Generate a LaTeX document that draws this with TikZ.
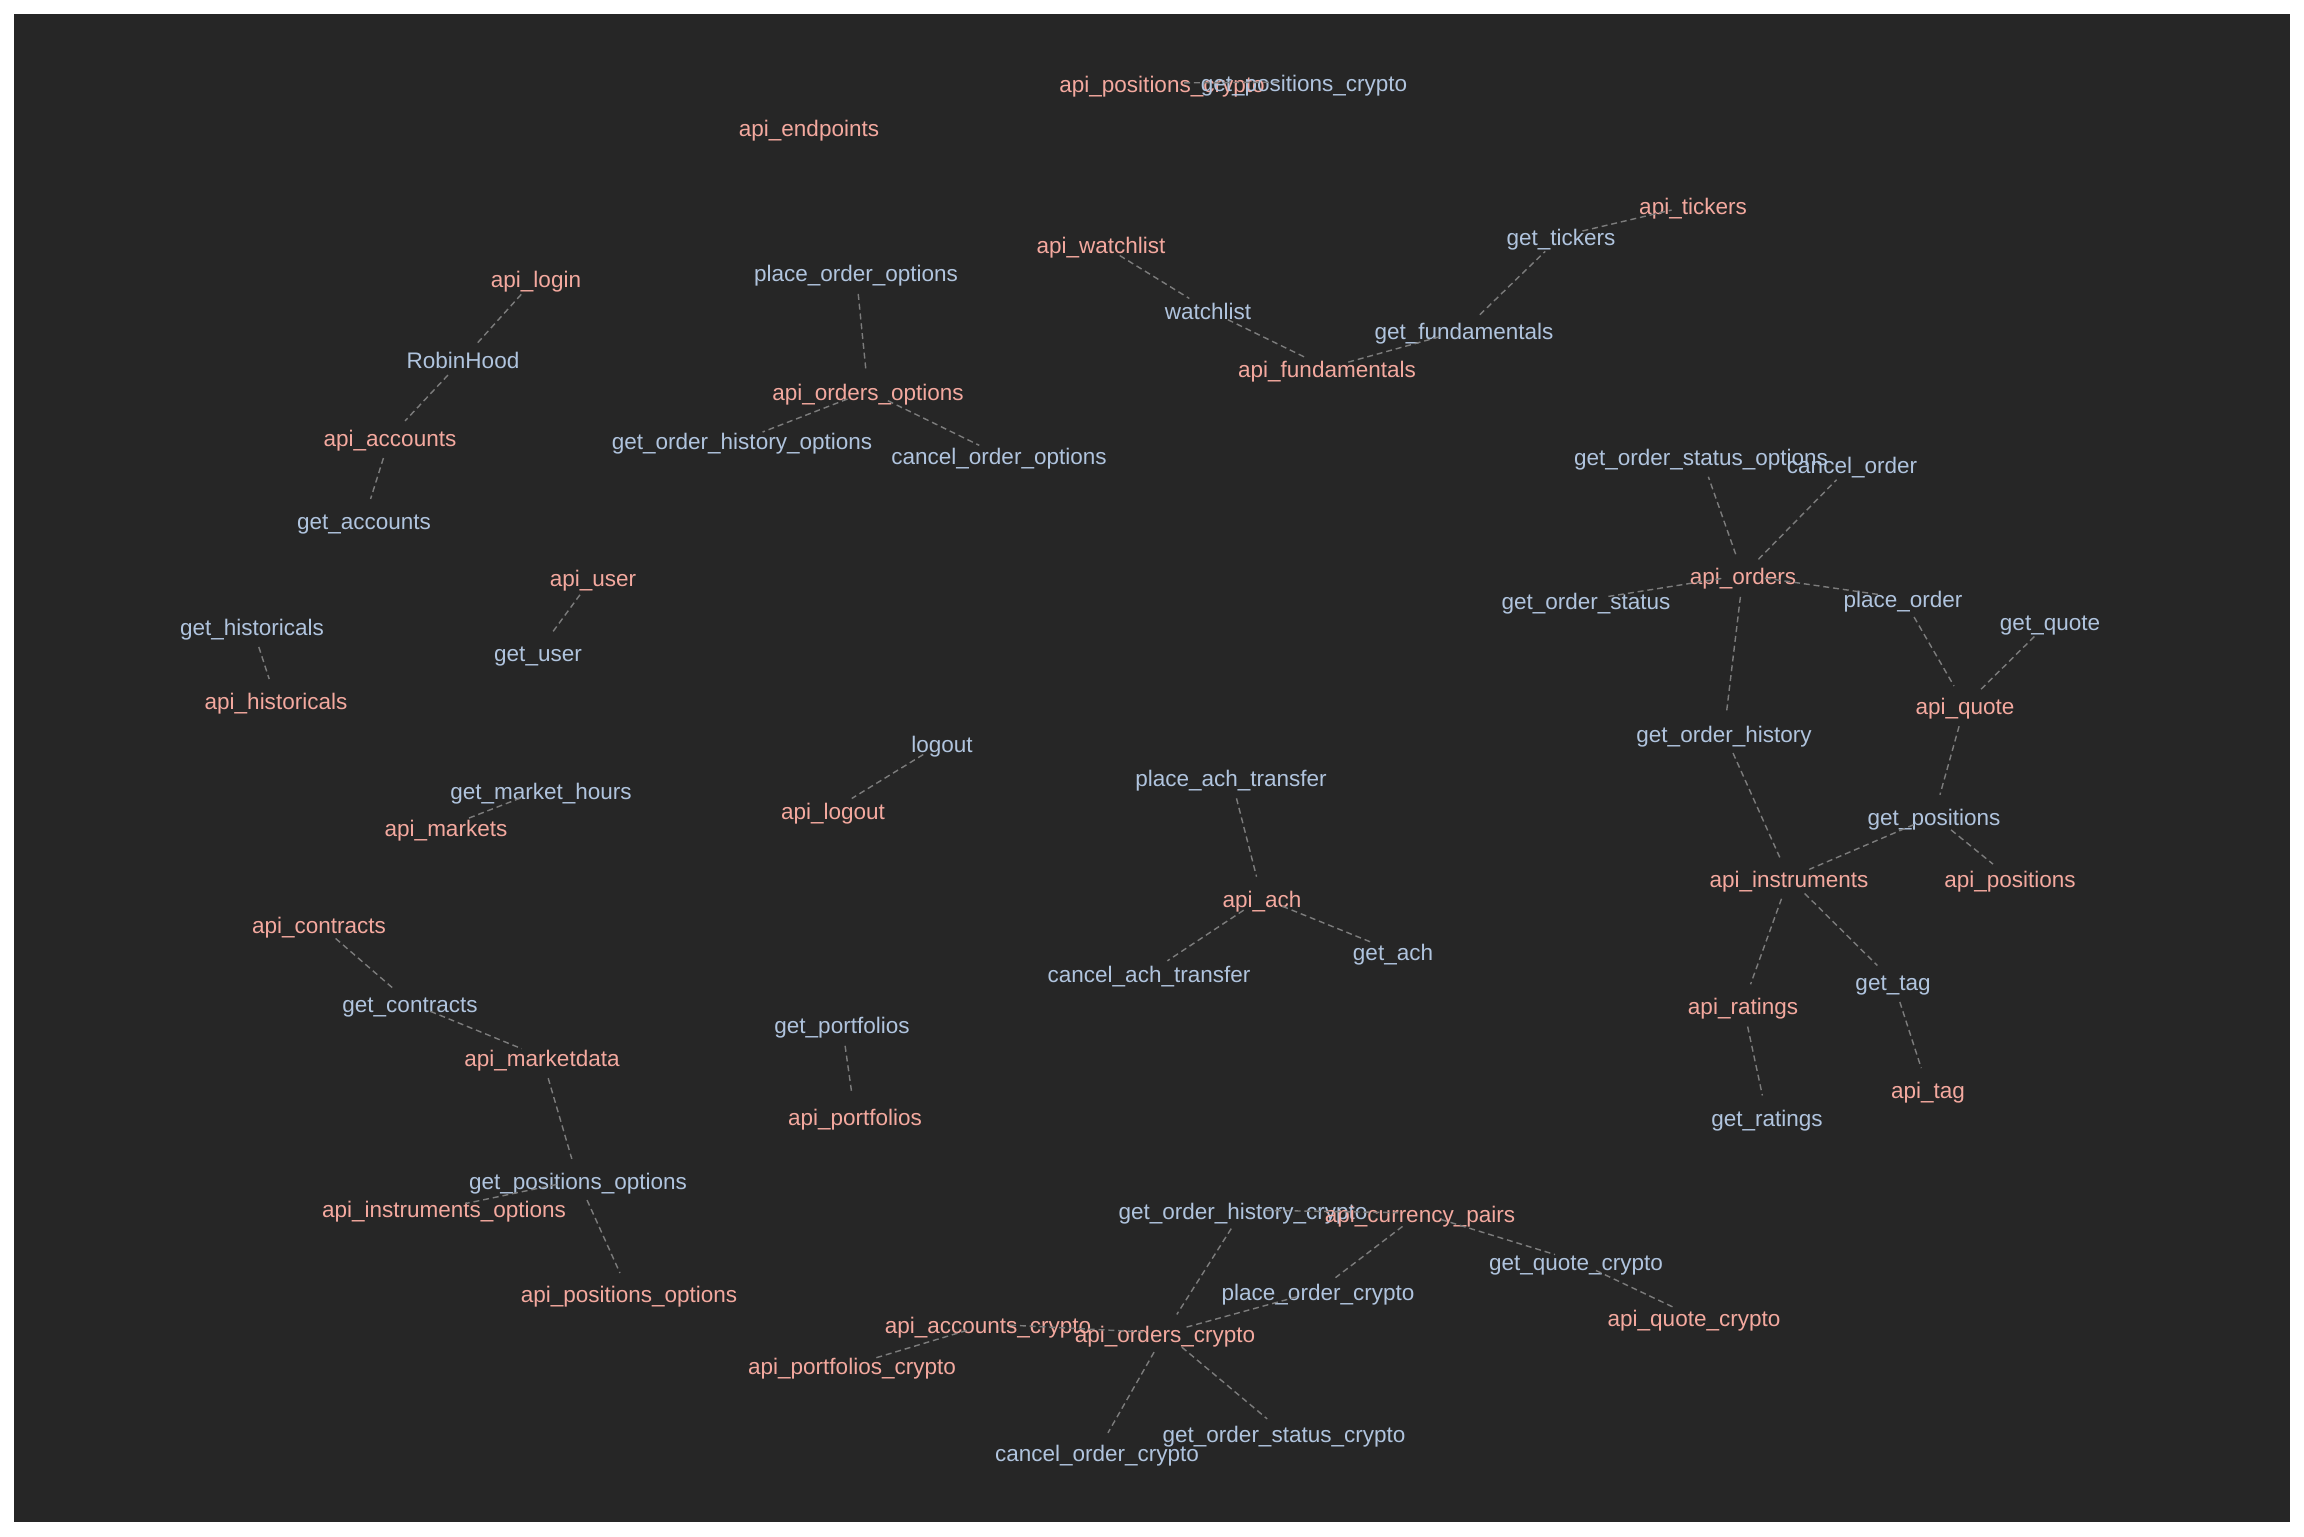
\documentclass[tikz,border=0pt]{standalone}
\usepackage{fontspec}
\setmainfont{Liberation Sans}
\definecolor{bgcol}{HTML}{262626}
\definecolor{apicol}{HTML}{F4A99F}
\definecolor{fncol}{HTML}{B0C4DE}
\definecolor{linkcol}{HTML}{7C7C7C}

\begin{document}
\begin{tikzpicture}[x=0.01cm,y=-0.01cm,
  lbl/.style={inner sep=0pt,yshift=0.02cm,font=\fontsize{6.4}{7.7}\selectfont,text height=0.72em,text depth=0.2em},
  apinode/.style={lbl,text=apicol},
  fnnode/.style={lbl,text=fncol},
  link/.style={linkcol,line width=0.4pt,dash pattern=on 1.7pt off 1.1pt,shorten >=0.22cm,shorten <=0.22cm}]
\useasboundingbox[fill=white] (0,0) rectangle (2304,1536);
\fill[bgcol] (14,14) rectangle (2290,1522);

\node[apinode] (apiposcr) at (1162,85) {api\_positions\_crypto};
\node[fnnode] (getposcr) at (1304,84) {get\_positions\_crypto};
\node[apinode] (apiendp) at (809,129) {api\_endpoints};

\node[apinode] (apiwatch) at (1101,246) {api\_watchlist};
\node[fnnode] (watch) at (1208,312) {watchlist};
\node[apinode] (apifund) at (1327,370) {api\_fundamentals};
\node[fnnode] (getfund) at (1464,332) {get\_fundamentals};
\node[fnnode] (gettick) at (1561,238) {get\_tickers};
\node[apinode] (apitick) at (1693,207) {api\_tickers};

\node[apinode] (apilogin) at (536,280) {api\_login};
\node[fnnode] (robin) at (463,361) {RobinHood};
\node[apinode] (apiacc) at (390,439) {api\_accounts};
\node[fnnode] (getacc) at (364,522) {get\_accounts};

\node[fnnode] (placeopt) at (856,274) {place\_order\_options};
\node[apinode] (apiordopt) at (868,393) {api\_orders\_options};
\node[fnnode] (gethistopt) at (742,442) {get\_order\_history\_options};
\node[fnnode] (cancelopt) at (999,457) {cancel\_order\_options};

\node[apinode] (apiuser) at (593,579) {api\_user};
\node[fnnode] (getuser) at (538,654) {get\_user};
\node[fnnode] (gethist) at (252,628) {get\_historicals};
\node[apinode] (apihist) at (276,702) {api\_historicals};
\node[fnnode] (gethours) at (541,792) {get\_market\_hours};
\node[apinode] (apimark) at (446,829) {api\_markets};
\node[fnnode] (logout) at (942,745) {logout};
\node[apinode] (apilogout) at (833,812) {api\_logout};

\node[apinode] (apicontr) at (319,926) {api\_contracts};
\node[fnnode] (getcontr) at (410,1005) {get\_contracts};
\node[apinode] (apimdata) at (542,1059) {api\_marketdata};
\node[fnnode] (getposopt) at (578,1182) {get\_positions\_options};
\node[apinode] (apiinstopt) at (444,1210) {api\_instruments\_options};
\node[apinode] (apiposopt) at (629,1295) {api\_positions\_options};

\node[fnnode] (getport) at (842,1026) {get\_portfolios};
\node[apinode] (apiport) at (855,1118) {api\_portfolios};

\node[fnnode] (placeach) at (1231,779) {place\_ach\_transfer};
\node[apinode] (apiach) at (1262,900) {api\_ach};
\node[fnnode] (cancelach) at (1149,975) {cancel\_ach\_transfer};
\node[fnnode] (getach) at (1393,953) {get\_ach};

\node[fnnode] (getstatopt) at (1701,458) {get\_order\_status\_options};
\node[fnnode] (cancelord) at (1852,466) {cancel\_order};
\node[apinode] (apiord) at (1743,577) {api\_orders};
\node[fnnode] (getstat) at (1586,602) {get\_order\_status};
\node[fnnode] (placeord) at (1903,600) {place\_order};
\node[fnnode] (getquote) at (2050,623) {get\_quote};
\node[apinode] (apiquote) at (1965,707) {api\_quote};
\node[fnnode] (gethistord) at (1724,735) {get\_order\_history};
\node[fnnode] (getpos) at (1934,818) {get\_positions};
\node[apinode] (apiinst) at (1789,880) {api\_instruments};
\node[apinode] (apipos) at (2010,880) {api\_positions};
\node[fnnode] (gettag) at (1893,983) {get\_tag};
\node[apinode] (apirat) at (1743,1007) {api\_ratings};
\node[apinode] (apitag) at (1928,1091) {api\_tag};
\node[fnnode] (getrat) at (1767,1119) {get\_ratings};

\node[fnnode] (gethistcr) at (1243,1212) {get\_order\_history\_crypto};
\node[apinode] (apipairs) at (1420,1215) {api\_currency\_pairs};
\node[fnnode] (getquotecr) at (1576,1263) {get\_quote\_crypto};
\node[fnnode] (placecr) at (1318,1293) {place\_order\_crypto};
\node[apinode] (apiquotecr) at (1694,1319) {api\_quote\_crypto};
\node[apinode] (apiordcr) at (1165,1335) {api\_orders\_crypto};
\node[apinode] (apiacccr) at (988,1326) {api\_accounts\_crypto};
\node[apinode] (apiportcr) at (852,1367) {api\_portfolios\_crypto};
\node[fnnode] (getstatcr) at (1284,1435) {get\_order\_status\_crypto};
\node[fnnode] (cancelcr) at (1097,1454) {cancel\_order\_crypto};

\draw[link] (apiposcr.center) -- (getposcr.center);
\draw[link] (apiwatch.center) -- (watch.center);
\draw[link] (watch.center) -- (apifund.center);
\draw[link] (apifund.center) -- (getfund.center);
\draw[link] (getfund.center) -- (gettick.center);
\draw[link] (gettick.center) -- (apitick.center);
\draw[link] (apilogin.center) -- (robin.center);
\draw[link] (robin.center) -- (apiacc.center);
\draw[link] (apiacc.center) -- (getacc.center);
\draw[link] (placeopt.center) -- (apiordopt.center);
\draw[link] (apiordopt.center) -- (gethistopt.center);
\draw[link] (apiordopt.center) -- (cancelopt.center);
\draw[link] (apiuser.center) -- (getuser.center);
\draw[link] (gethist.center) -- (apihist.center);
\draw[link] (gethours.center) -- (apimark.center);
\draw[link] (logout.center) -- (apilogout.center);
\draw[link] (apicontr.center) -- (getcontr.center);
\draw[link] (getcontr.center) -- (apimdata.center);
\draw[link] (apimdata.center) -- (getposopt.center);
\draw[link] (getposopt.center) -- (apiinstopt.center);
\draw[link] (getposopt.center) -- (apiposopt.center);
\draw[link] (getport.center) -- (apiport.center);
\draw[link] (placeach.center) -- (apiach.center);
\draw[link] (apiach.center) -- (cancelach.center);
\draw[link] (apiach.center) -- (getach.center);
\draw[link] (apiord.center) -- (getstatopt.center);
\draw[link] (apiord.center) -- (cancelord.center);
\draw[link] (apiord.center) -- (getstat.center);
\draw[link] (apiord.center) -- (placeord.center);
\draw[link] (apiord.center) -- (gethistord.center);
\draw[link] (placeord.center) -- (apiquote.center);
\draw[link] (getquote.center) -- (apiquote.center);
\draw[link] (apiquote.center) -- (getpos.center);
\draw[link] (gethistord.center) -- (apiinst.center);
\draw[link] (getpos.center) -- (apiinst.center);
\draw[link] (getpos.center) -- (apipos.center);
\draw[link] (apiinst.center) -- (apirat.center);
\draw[link] (apiinst.center) -- (gettag.center);
\draw[link] (apirat.center) -- (getrat.center);
\draw[link] (gettag.center) -- (apitag.center);
\draw[link] (gethistcr.center) -- (apipairs.center);
\draw[link] (gethistcr.center) -- (apiordcr.center);
\draw[link] (apipairs.center) -- (placecr.center);
\draw[link] (apipairs.center) -- (getquotecr.center);
\draw[link] (getquotecr.center) -- (apiquotecr.center);
\draw[link] (placecr.center) -- (apiordcr.center);
\draw[link] (apiacccr.center) -- (apiordcr.center);
\draw[link] (apiacccr.center) -- (apiportcr.center);
\draw[link] (apiordcr.center) -- (cancelcr.center);
\draw[link] (apiordcr.center) -- (getstatcr.center);
\end{tikzpicture}
\end{document}
